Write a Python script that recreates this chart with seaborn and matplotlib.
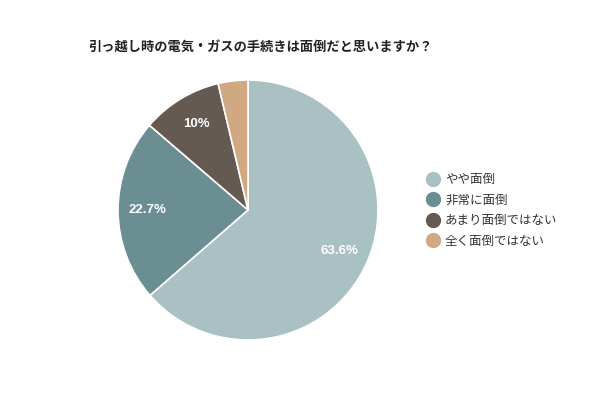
import matplotlib
matplotlib.use("Agg")
import matplotlib.pyplot as plt
from matplotlib.lines import Line2D
import numpy as np
import seaborn as sns

title = "引っ越し時の電気・ガスの手続きは面倒だと思いますか？"
categories = ["やや面倒", "非常に面倒", "あまり面倒ではない", "全く面倒ではない"]
values = [63.6, 22.7, 10.0, 3.7]
value_labels = ["63.6%", "22.7%", "10%", ""]
colors = ["#a9c1c2", "#6b8e93", "#655a51", "#d0a982"]

sns.set_theme(style="white")
plt.rcParams['font.family'] = ['Noto Sans CJK JP', 'DejaVu Sans']
palette = sns.color_palette(colors)

fig = plt.figure(figsize=(6, 4), dpi=100)
fig.patch.set_facecolor("white")
ax = fig.add_axes([0.1967, 0.15, 0.4333, 0.65])

wedges, _ = ax.pie(values, colors=palette, startangle=90, counterclock=False,
                   wedgeprops=dict(edgecolor="white", linewidth=1.2))
for w, lab in zip(wedges, value_labels):
    if not lab:
        continue
    ang = np.deg2rad((w.theta1 + w.theta2) / 2)
    r = 0.77
    ax.text(r * np.cos(ang), r * np.sin(ang), lab, ha="center", va="center",
            color="white", fontsize=9.5, fontweight="bold", family="Liberation Sans")
ax.set_xlim(-1, 1)
ax.set_ylim(-1, 1)
ax.set_aspect("equal")
ax.axis("off")

fig.text(0.147, 0.88, title, fontsize=9.5, fontweight="bold", color="#222222",
         ha="left", va="center")

handles = [Line2D([0], [0], marker="o", linestyle="", markersize=10,
                  markerfacecolor=c, markeredgecolor=c) for c in palette]
leg = fig.legend(handles, categories, loc="upper left",
                 bbox_to_anchor=(0.7, 0.58), frameon=False, fontsize=9,
                 handletextpad=0.4, labelspacing=0.6, handlelength=1.2,
                 borderaxespad=0)
for t in leg.get_texts():
    t.set_color("#333333")

fig.savefig("out.png", dpi=100, facecolor="white")
